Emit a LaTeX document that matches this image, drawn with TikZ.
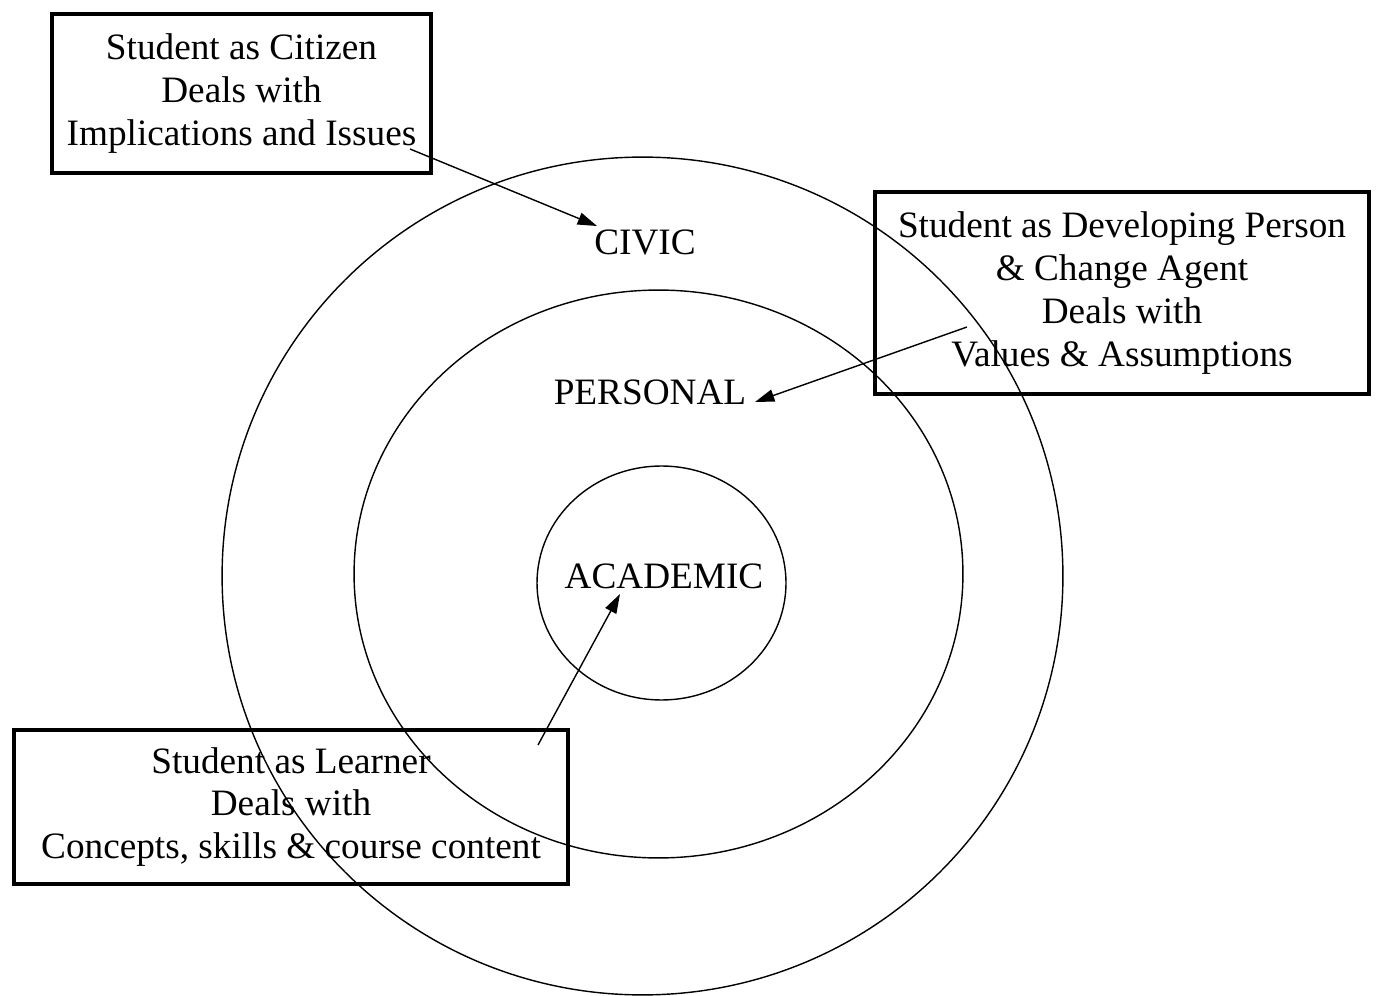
\documentclass[tikz,border=0pt]{standalone}
\usepackage{fontspec}
\setmainfont{Liberation Serif}
\usetikzlibrary{arrows.meta}
\usetikzlibrary{positioning}

\begin{document}
\begin{tikzpicture}[x=0.02cm,y=-0.02cm,
  every node/.style={font=\fontsize{21.2}{24.4}\selectfont},
  rolebox/.style={draw, line width=2.7pt, align=center, inner sep=0pt},
  ring/.style={line width=0.8pt},
  pointer/.style={line width=0.8pt, -{Triangle[length=11pt,width=7pt]}}]
\useasboundingbox (0,0) rectangle (1379,996);
% rings
\draw[ring] (642.5,576) ellipse (8.41cm and 8.38cm);
\draw[ring] (658.5,574) ellipse (6.09cm and 5.68cm);
\draw[ring] (661.5,583) ellipse (2.49cm and 2.34cm);
% ring labels
\node (civic) at (645,242) {CIVIC};
\node (personal) at (650,392) {PERSONAL};
\node (academic) at (664,576) {ACADEMIC};
% role boxes
\node[rolebox, minimum width=7.58cm, minimum height=3.18cm] (citizen) at (241.5,93.5)
  {Student as Citizen\\Deals with\\Implications and Issues};
\node[rolebox, minimum width=9.88cm, minimum height=4.04cm] (agent) at (1122,293)
  {Student as Developing Person\\\& Change Agent\\Deals with\\Values \& Assumptions};
\node[rolebox, minimum width=11.08cm, minimum height=3.08cm] (learner) at (291,807)
  {Student as Learner\\Deals with\\Concepts, skills \& course content};
% pointers
\coordinate (civictail) at (410,149);
\coordinate (civictip) at (597,226);
\coordinate (personaltail) at (967,327);
\coordinate (personaltip) at (755,402);
\coordinate (academictail) at (538,745);
\coordinate (academictip) at (620,594);
\draw[pointer] (civictail) -- (civictip);
\draw[pointer] (personaltail) -- (personaltip);
\draw[pointer] (academictail) -- (academictip);
\end{tikzpicture}
\end{document}
